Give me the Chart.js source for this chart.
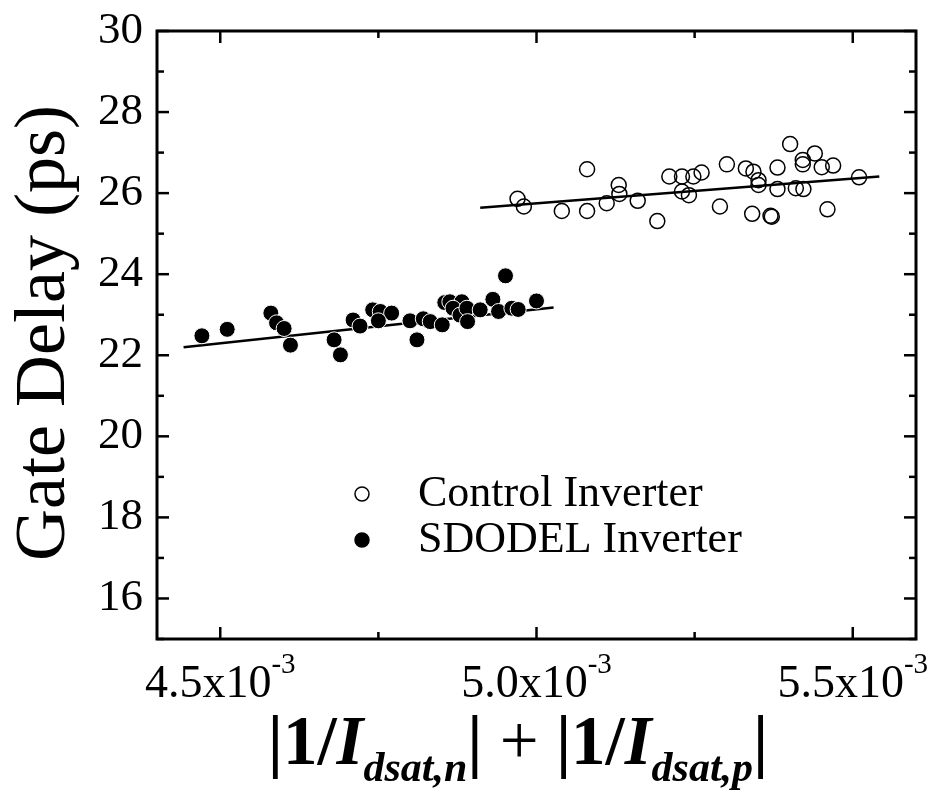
<!DOCTYPE html>
<html>
<head>
<meta charset="utf-8">
<script src="https://cdn.jsdelivr.net/npm/chart.js@4.4.1/dist/chart.umd.min.js"></script>
<style>
  html, body { margin: 0; padding: 0; background: #fff; }
  #wrap { width: 929px; height: 791px; }
</style>
</head>
<body>
<div id="wrap"><canvas id="delayChart" width="929" height="791"></canvas></div>
<script>
// gate delay vs. summed inverse saturation currents, two inverter types

const controlX = [4.970, 4.980, 5.040, 5.080, 5.080, 5.111, 5.130, 5.131, 5.160, 5.191,
  5.210, 5.230, 5.248, 5.261, 5.230, 5.241, 5.290, 5.301, 5.331, 5.343,
  5.351, 5.351, 5.341, 5.370, 5.372, 5.381, 5.381, 5.401, 5.410, 5.422,
  5.421, 5.421, 5.440, 5.451, 5.469, 5.460, 5.510];
const controlY = [25.86, 25.67, 25.56, 25.56, 26.59, 25.75, 26.20, 25.98, 25.81, 25.31,
  26.41, 26.41, 26.41, 26.51, 26.04, 25.95, 25.67, 26.71, 26.61, 26.53,
  26.32, 26.20, 25.49, 25.44, 25.42, 26.63, 26.10, 27.21, 26.12, 26.10,
  26.82, 26.71, 26.98, 26.64, 26.68, 25.60, 26.39];

const sdodelX = [4.471, 4.511, 4.580, 4.589, 4.601, 4.611, 4.680, 4.690, 4.710, 4.721,
  4.741, 4.753, 4.771, 4.750, 4.800, 4.811, 4.821, 4.832, 4.851, 4.855,
  4.863, 4.882, 4.868, 4.879, 4.890, 4.891, 4.911, 4.931, 4.940, 4.951,
  4.961, 4.971, 5.000];
const sdodelY = [22.48, 22.64, 23.04, 22.80, 22.66, 22.25, 22.38, 22.01, 22.87, 22.72,
  23.12, 23.08, 23.04, 22.85, 22.85, 22.38, 22.90, 22.83, 22.75, 23.30,
  23.32, 23.32, 23.16, 22.99, 23.16, 22.83, 23.12, 23.38, 23.08, 23.96,
  23.16, 23.13, 23.34];

// linear fits, end points
const controlFitX = [4.911, 5.542];
const controlFitY = [25.64, 26.41];
const sdodelFitX = [4.442, 5.027];
const sdodelFitY = [22.20, 23.18];

// axis values are in units of 1e-3
const xMin = 4.4, xMax = 5.6;
const yMin = 15, yMax = 30;
const xMajor = [4.5, 5.0, 5.5];
const xMinor = [4.75, 5.25];
const xTickText = ['4.5x10', '5.0x10', '5.5x10'];
const xTickExp = '-3';
const yMajor = [16, 18, 20, 22, 24, 26, 28, 30];
const yMinor = [15, 17, 19, 21, 23, 25, 27, 29];

const seriesNames = ['Control Inverter', 'SDODEL Inverter'];

const toPts = (xs, ys) => xs.map((x, i) => ({ x: x, y: ys[i] }));

const FONT = "'Liberation Serif', 'Times New Roman', serif";

const framePlugin = {
  id: 'frame',
  afterDraw(chart) {
    const ctx = chart.ctx;
    const a = chart.chartArea;
    const sx = chart.scales.x, sy = chart.scales.y;
    ctx.save();
    ctx.strokeStyle = '#000';
    ctx.fillStyle = '#000';

    // box
    ctx.lineWidth = 3;
    ctx.strokeRect(a.left, a.top, a.right - a.left, a.bottom - a.top);

    // inward ticks on all four sides
    ctx.lineWidth = 2.5;
    const tick = (x1, y1, x2, y2) => { ctx.beginPath(); ctx.moveTo(x1, y1); ctx.lineTo(x2, y2); ctx.stroke(); };
    xMajor.forEach(v => { const p = sx.getPixelForValue(v); tick(p, a.bottom, p, a.bottom - 12); tick(p, a.top, p, a.top + 12); });
    xMinor.forEach(v => { const p = sx.getPixelForValue(v); tick(p, a.bottom, p, a.bottom - 7); tick(p, a.top, p, a.top + 7); });
    yMajor.forEach(v => { const p = sy.getPixelForValue(v); tick(a.left, p, a.left + 12, p); tick(a.right, p, a.right - 12, p); });
    yMinor.forEach(v => { const p = sy.getPixelForValue(v); tick(a.left, p, a.left + 7, p); tick(a.right, p, a.right - 7, p); });

    // y tick labels
    ctx.font = '45px ' + FONT;
    ctx.textAlign = 'right';
    ctx.textBaseline = 'middle';
    yMajor.forEach(v => ctx.fillText(String(v), a.left - 14, sy.getPixelForValue(v)));

    // x tick labels with superscript exponent
    ctx.textAlign = 'left';
    ctx.textBaseline = 'alphabetic';
    xMajor.forEach((v, i) => {
      const p = sx.getPixelForValue(v);
      ctx.font = '46px ' + FONT;
      const w1 = ctx.measureText(xTickText[i]).width;
      ctx.font = '29px ' + FONT;
      const w2 = ctx.measureText(xTickExp).width;
      const x0 = p - (w1 + w2) / 2;
      ctx.font = '46px ' + FONT;
      ctx.fillText(xTickText[i], x0, 697);
      ctx.font = '29px ' + FONT;
      ctx.fillText(xTickExp, x0 + w1, 673);
    });

    // y title
    ctx.save();
    ctx.translate(45, 333);
    ctx.rotate(-Math.PI / 2);
    ctx.font = '72px ' + FONT;
    ctx.textAlign = 'center';
    ctx.textBaseline = 'middle';
    ctx.fillText('Gate Delay (ps)', 0, 0);
    ctx.restore();

    // x title: |1/I_dsat,n| + |1/I_dsat,p|
    const big = 69, small = 42;
    const parts = [
      { t: '|1/', f: 'bold ' + big + 'px ', dy: 0 },
      { t: 'I', f: 'italic bold ' + big + 'px ', dy: 0 },
      { t: 'dsat,n', f: 'italic bold ' + small + 'px ', dy: 17 },
      { t: '|', f: 'bold ' + big + 'px ', dy: 0 },
      { t: ' + ', f: big + 'px ', dy: 0 },
      { t: '|1/', f: 'bold ' + big + 'px ', dy: 0 },
      { t: 'I', f: 'italic bold ' + big + 'px ', dy: 0 },
      { t: 'dsat,p', f: 'italic bold ' + small + 'px ', dy: 17 },
      { t: '|', f: 'bold ' + big + 'px ', dy: 0 }
    ];
    let total = 0;
    parts.forEach(s => { ctx.font = s.f + FONT; s.w = ctx.measureText(s.t).width; total += s.w; });
    let cx = 518 - total / 2;
    parts.forEach(s => { ctx.font = s.f + FONT; ctx.fillText(s.t, cx, 764 + s.dy); cx += s.w; });

    // legend
    const rows = [{ y: 494, ds: chart.data.datasets[0] }, { y: 540, ds: chart.data.datasets[1] }];
    rows.forEach((r, i) => {
      ctx.beginPath();
      ctx.arc(362, r.y, 7, 0, Math.PI * 2);
      if (r.ds.backgroundColor !== 'transparent') { ctx.fillStyle = '#000'; ctx.fill(); }
      ctx.lineWidth = 1.5;
      ctx.strokeStyle = '#000';
      ctx.stroke();
      ctx.fillStyle = '#000';
      ctx.font = '44px ' + FONT;
      ctx.textBaseline = 'middle';
      ctx.fillText(seriesNames[i], 418, r.y);
    });
    ctx.restore();
  }
};

new Chart(document.getElementById('delayChart'), {
  type: 'scatter',
  data: {
    datasets: [
      {
        label: seriesNames[0],
        data: toPts(controlX, controlY),
        backgroundColor: 'transparent',
        borderColor: '#000',
        borderWidth: 1.5,
        pointRadius: 7.5,
        order: 1
      },
      {
        label: seriesNames[1],
        data: toPts(sdodelX, sdodelY),
        backgroundColor: '#000',
        borderColor: '#fff',
        borderWidth: 1,
        pointRadius: 8,
        order: 1
      },
      {
        label: 'control fit',
        data: toPts(controlFitX, controlFitY),
        showLine: true,
        borderColor: '#000',
        borderWidth: 2.5,
        pointRadius: 0,
        order: 2
      },
      {
        label: 'sdodel fit',
        data: toPts(sdodelFitX, sdodelFitY),
        showLine: true,
        borderColor: '#000',
        borderWidth: 2.5,
        pointRadius: 0,
        order: 2
      }
    ]
  },
  options: {
    responsive: false,
    animation: false,
    layout: { padding: { left: 157, right: 13, top: 31, bottom: 152 } },
    plugins: { legend: { display: false }, tooltip: { enabled: false } },
    scales: {
      x: { type: 'linear', min: xMin, max: xMax, display: false },
      y: { type: 'linear', min: yMin, max: yMax, display: false }
    }
  },
  plugins: [framePlugin]
});
</script>
</body>
</html>
